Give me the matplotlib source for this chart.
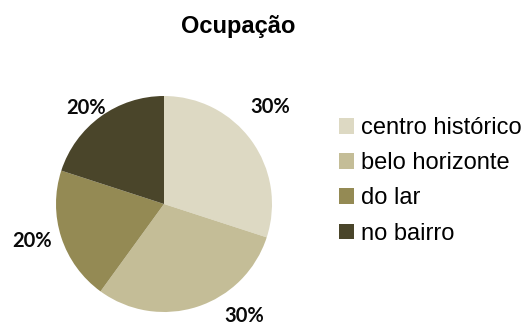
import matplotlib
matplotlib.use("Agg")
import matplotlib.pyplot as plt
from matplotlib.patches import Patch

# data
categories = ["centro histórico", "belo horizonte", "do lar", "no bairro"]
values = [30, 30, 20, 20]
colors = ["#DDD9C3", "#C4BD97", "#948A54", "#4A452A"]

# label anchor points, in units of pie radius
label_pos = [(0.98, 0.90), (0.74, -1.04), (-1.22, -0.34), (-0.72, 0.89)]

W, H, DPI = 525, 322, 100
fig = plt.figure(figsize=(W / DPI, H / DPI), dpi=DPI, facecolor="white")

# pie centre (164, 204) px, radius 108 px
cx, cy, r = 164, 204, 108
ax = fig.add_axes([(cx - r) / W, (H - cy - r) / H, 2 * r / W, 2 * r / H])
wedges, _ = ax.pie(values, colors=colors, startangle=90, counterclock=False,
                   radius=1, wedgeprops=dict(linewidth=0))
ax.set_xlim(-1, 1)
ax.set_ylim(-1, 1)
ax.set_aspect("equal")
ax.axis("off")

total = sum(values)
for v, (x, y) in zip(values, label_pos):
    ax.text(x, y, f"{v / total:.0%}", ha="center", va="center",
            fontsize=14.5, fontweight="bold", family="Lato",
            color="#0a0a0a", clip_on=False)

fig.text(238 / W, 1 - 26 / H, "Ocupação", ha="center", va="center",
         fontsize=17, fontweight="bold", family="Liberation Sans")

handles = [Patch(facecolor=c, edgecolor="none") for c in colors]
fig.legend(handles, categories, loc="upper left",
           bbox_to_anchor=(339 / W, 1 - 117 / H), frameon=False,
           prop=dict(family="Liberation Sans", size=17),
           handlelength=0.64, handleheight=0.64, handletextpad=0.3,
           labelspacing=0.56, borderpad=0, borderaxespad=0)

fig.savefig("out.png", dpi=DPI)
